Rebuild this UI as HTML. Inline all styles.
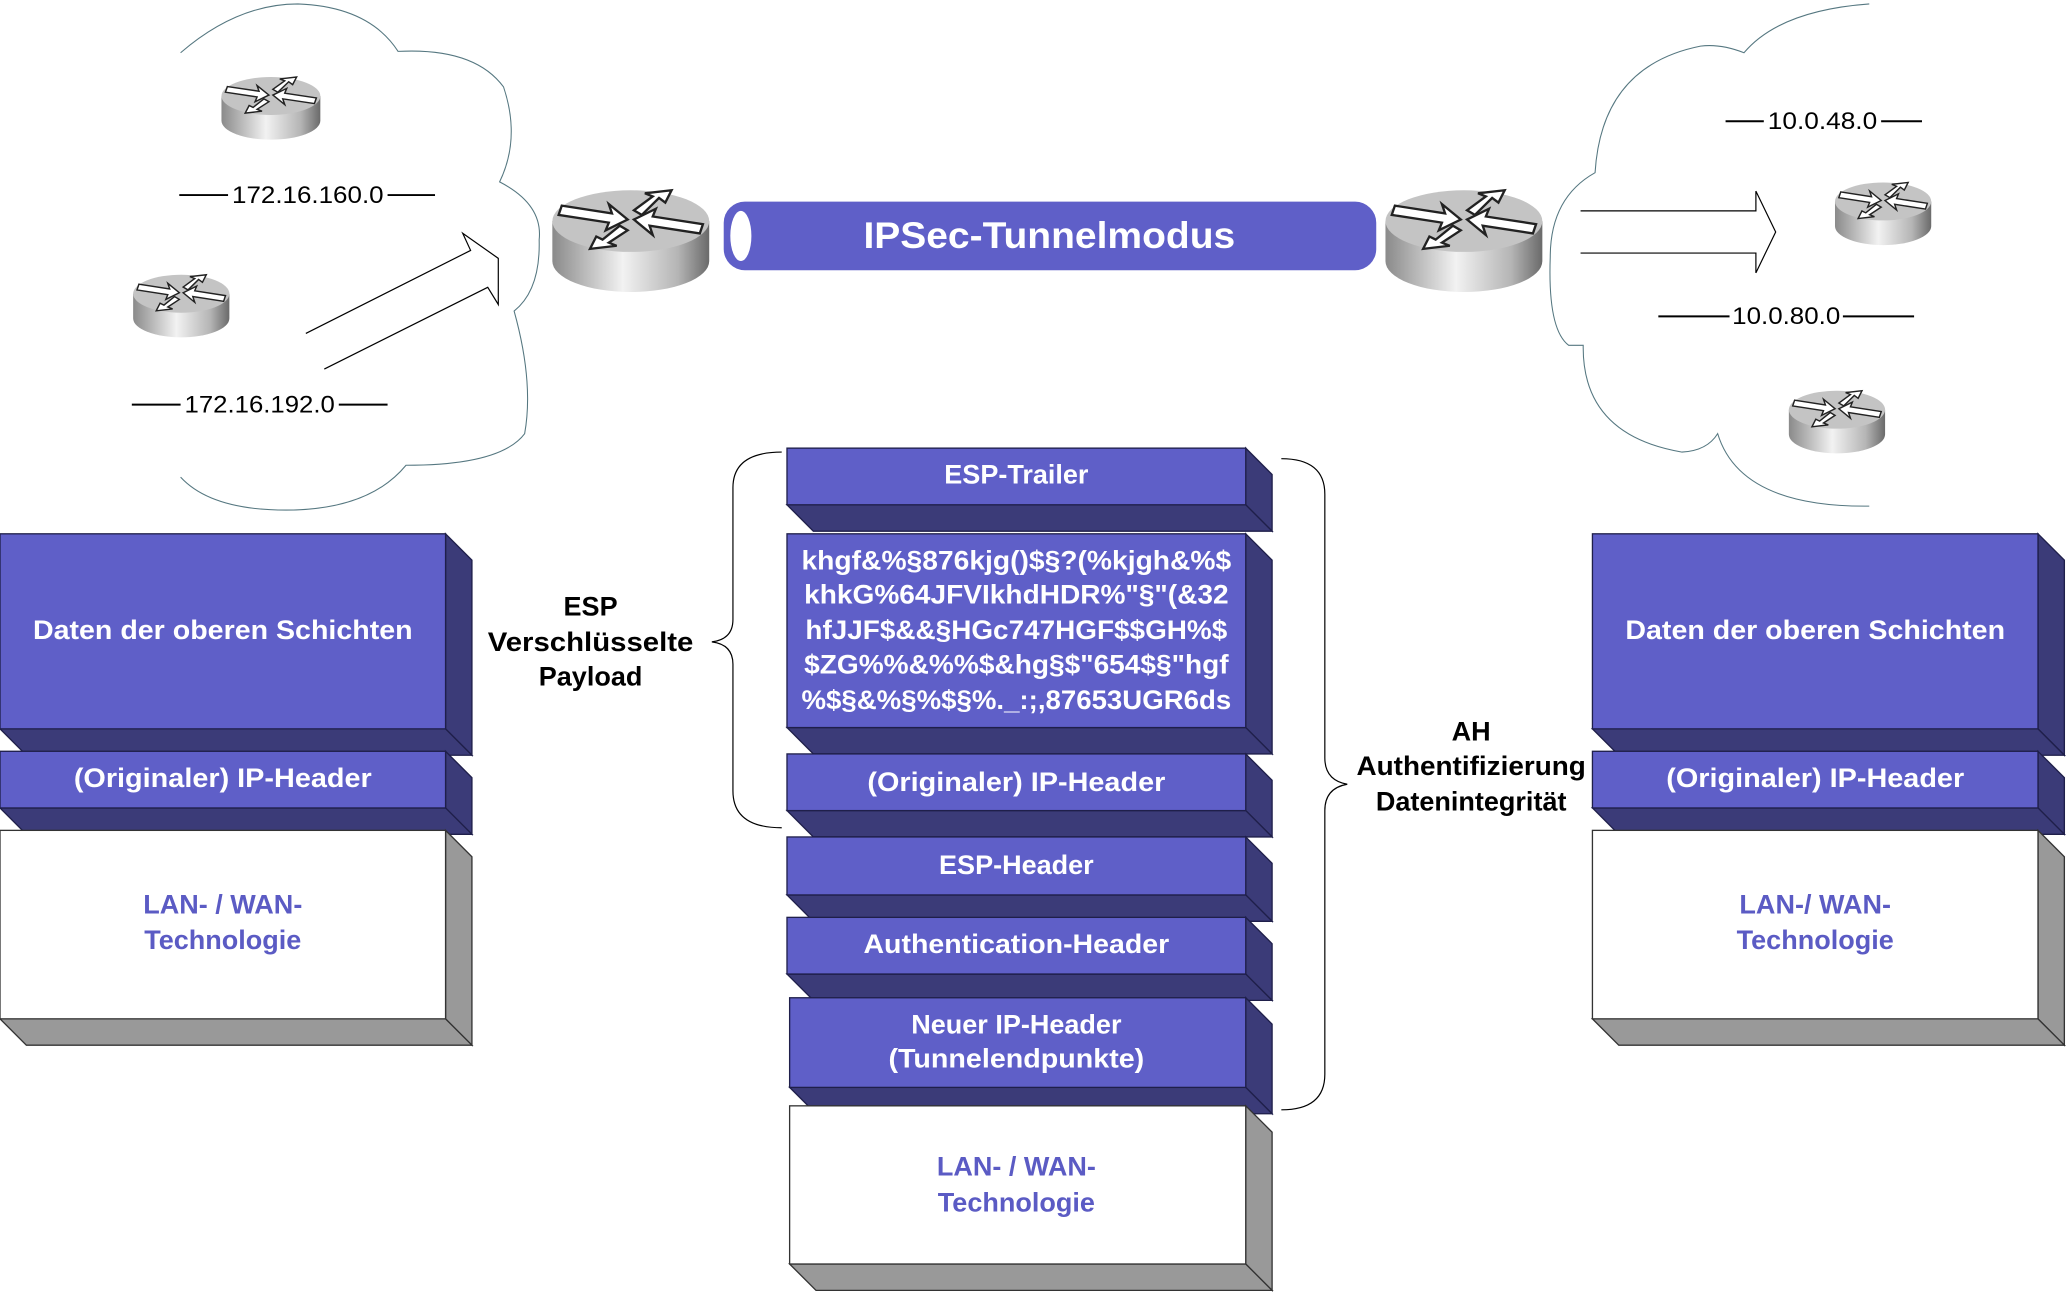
<!DOCTYPE html>
<html><head><meta charset="utf-8"><style>
html,body{margin:0;padding:0;background:#fff;}
svg{display:block;}
text{font-family:"Liberation Sans",Arial,sans-serif;}
.w{fill:#fff;font-weight:bold;font-size:20.5px;text-anchor:middle;}
.b{fill:#5b5bc4;font-weight:bold;font-size:20.5px;text-anchor:middle;}
.k{fill:#000;font-weight:bold;font-size:20.5px;text-anchor:middle;}
.n{fill:#000;font-size:18.5px;}
</style></head><body>
<svg width="2067" height="1293" viewBox="0 0 1568 981" preserveAspectRatio="none" xmlns="http://www.w3.org/2000/svg">
<defs>
<linearGradient id="cyl" x1="0" x2="1" y1="0" y2="0">
<stop offset="0" stop-color="#8a8a8a"/><stop offset="0.45" stop-color="#f2f2f2"/><stop offset="0.8" stop-color="#b5b5b5"/><stop offset="1" stop-color="#6a6a6a"/>
</linearGradient>
<g id="rt">
<path d="M0,22 L0,48 A50,20 0 0 0 100,48 L100,22 Z" fill="url(#cyl)"/>
<ellipse cx="50" cy="22" rx="50" ry="20" fill="#c4c4c4"/>
<g fill="#fff" stroke="#222" stroke-width="1.5">
<path d="M6,12 L38,17 L36,11 L48,21 L34,28 L36,23 L4,18 Z"/>
<path d="M94,30 L62,25 L64,31 L52,21 L66,14 L64,19 L96,24 Z"/>
<path d="M52,15 L64,6 L59,4 L76,2 L72,10 L68,7 L57,18 Z"/>
<path d="M48,28 L36,36 L41,38 L24,40 L28,32 L32,34 L43,25 Z"/>
</g>
</g>
</defs>

<!-- clouds -->
<path d="M137,40 Q180,3 226,3 Q280,5 302,39 Q360,36 382,66 Q395,105 379,138 Q412,155 409,182 Q410,220 390,236 Q405,290 398,329 Q380,353 308,353 Q280,387 217,387 Q160,387 137,362" fill="none" stroke="#557780" stroke-width="0.8"/>
<path d="M1418,3 Q1350,8 1323,40 Q1305,33 1290,35 Q1215,50 1210,131 Q1176,150 1176,195 Q1174,250 1190,262 L1201,262 Q1200,330 1276,343 Q1295,342 1303,329 Q1320,385 1418,384" fill="none" stroke="#557780" stroke-width="0.8"/>

<!-- routers -->
<use href="#rt" transform="translate(168,57) scale(0.75,0.72)"/>
<use href="#rt" transform="translate(101,207) scale(0.73,0.72)"/>
<use href="#rt" transform="translate(419,142) scale(1.19,1.17)"/>
<use href="#rt" transform="translate(1051,142) scale(1.19,1.17)"/>
<use href="#rt" transform="translate(1392,137) scale(0.73,0.72)"/>
<use href="#rt" transform="translate(1357,295) scale(0.73,0.72)"/>

<!-- network labels -->
<g stroke="#000" stroke-width="1.5">
<line x1="136" y1="148" x2="173" y2="148"/><line x1="294" y1="148" x2="330" y2="148"/>
<line x1="100" y1="307" x2="137" y2="307"/><line x1="257" y1="307" x2="294" y2="307"/>
<line x1="1309" y1="92" x2="1338" y2="92"/><line x1="1427" y1="92" x2="1458" y2="92"/>
<line x1="1258" y1="240" x2="1312" y2="240"/><line x1="1398" y1="240" x2="1452" y2="240"/>
</g>
<text class="n" x="176" y="154" textLength="115" lengthAdjust="spacingAndGlyphs">172.16.160.0</text>
<text class="n" x="140" y="313" textLength="114" lengthAdjust="spacingAndGlyphs">172.16.192.0</text>
<text class="n" x="1341" y="98" textLength="83" lengthAdjust="spacingAndGlyphs">10.0.48.0</text>
<text class="n" x="1314" y="246" textLength="82" lengthAdjust="spacingAndGlyphs">10.0.80.0</text>

<!-- arrows -->
<path d="M232,253 L357,190 L351,177 L378,196 L378,231 L370,218 L246,280" fill="none" stroke="#000" stroke-width="0.9"/>
<path d="M1199,160 L1332,160 L1332,145 L1347,176 L1332,207 L1332,192 L1199,192" fill="none" stroke="#000" stroke-width="0.9"/>

<!-- tunnel -->
<rect x="549" y="153" width="495" height="52" rx="16" fill="#5f5fc8"/>
<ellipse cx="562" cy="179" rx="8" ry="19" fill="#fff"/>
<text x="796" y="188" fill="#fff" font-weight="bold" font-size="28" text-anchor="middle" textLength="282" lengthAdjust="spacingAndGlyphs">IPSec-Tunnelmodus</text>

<!-- blocks -->
<g stroke="#1f1f4a" stroke-width="1">
<path d="M338,405 L358,425 L358,573 L338,553 Z" fill="#3b3b78"/>
<path d="M0,553 L338,553 L358,573 L20,573 Z" fill="#3b3b78"/>
<rect x="0" y="405" width="338" height="148" fill="#5f5fc8"/>
<path d="M338,570 L358,590 L358,633 L338,613 Z" fill="#3b3b78"/>
<path d="M0,613 L338,613 L358,633 L20,633 Z" fill="#3b3b78"/>
<rect x="0" y="570" width="338" height="43" fill="#5f5fc8"/>
<path d="M1546,405 L1566,425 L1566,573 L1546,553 Z" fill="#3b3b78"/>
<path d="M1208,553 L1546,553 L1566,573 L1228,573 Z" fill="#3b3b78"/>
<rect x="1208" y="405" width="338" height="148" fill="#5f5fc8"/>
<path d="M1546,570 L1566,590 L1566,633 L1546,613 Z" fill="#3b3b78"/>
<path d="M1208,613 L1546,613 L1566,633 L1228,633 Z" fill="#3b3b78"/>
<rect x="1208" y="570" width="338" height="43" fill="#5f5fc8"/>
<path d="M945,340 L965,360 L965,403 L945,383 Z" fill="#3b3b78"/>
<path d="M597,383 L945,383 L965,403 L617,403 Z" fill="#3b3b78"/>
<rect x="597" y="340" width="348" height="43" fill="#5f5fc8"/>
<path d="M945,405 L965,425 L965,572 L945,552 Z" fill="#3b3b78"/>
<path d="M597,552 L945,552 L965,572 L617,572 Z" fill="#3b3b78"/>
<rect x="597" y="405" width="348" height="147" fill="#5f5fc8"/>
<path d="M945,572 L965,592 L965,635 L945,615 Z" fill="#3b3b78"/>
<path d="M597,615 L945,615 L965,635 L617,635 Z" fill="#3b3b78"/>
<rect x="597" y="572" width="348" height="43" fill="#5f5fc8"/>
<path d="M945,635 L965,655 L965,699 L945,679 Z" fill="#3b3b78"/>
<path d="M597,679 L945,679 L965,699 L617,699 Z" fill="#3b3b78"/>
<rect x="597" y="635" width="348" height="44" fill="#5f5fc8"/>
<path d="M945,696 L965,716 L965,759 L945,739 Z" fill="#3b3b78"/>
<path d="M597,739 L945,739 L965,759 L617,759 Z" fill="#3b3b78"/>
<rect x="597" y="696" width="348" height="43" fill="#5f5fc8"/>
<path d="M945,757 L965,777 L965,845 L945,825 Z" fill="#3b3b78"/>
<path d="M599,825 L945,825 L965,845 L619,845 Z" fill="#3b3b78"/>
<rect x="599" y="757" width="346" height="68" fill="#5f5fc8"/>
</g>
<g stroke="#333" stroke-width="1">
<path d="M338,630 L358,650 L358,793 L338,773 Z" fill="#999"/>
<path d="M0,773 L338,773 L358,793 L20,793 Z" fill="#999"/>
<rect x="0" y="630" width="338" height="143" fill="#fff"/>
<path d="M1546,630 L1566,650 L1566,793 L1546,773 Z" fill="#999"/>
<path d="M1208,773 L1546,773 L1566,793 L1228,793 Z" fill="#999"/>
<rect x="1208" y="630" width="338" height="143" fill="#fff"/>
<path d="M945,839 L965,859 L965,979 L945,959 Z" fill="#999"/>
<path d="M599,959 L945,959 L965,979 L619,979 Z" fill="#999"/>
<rect x="599" y="839" width="346" height="120" fill="#fff"/>
</g>

<!-- block texts -->
<text class="w" x="169" y="485" textLength="288" lengthAdjust="spacingAndGlyphs">Daten der oberen Schichten</text>
<text class="w" x="169" y="597" textLength="226" lengthAdjust="spacingAndGlyphs">(Originaler) IP-Header</text>
<text class="b" x="169" y="693">LAN- / WAN-</text>
<text class="b" x="169" y="720">Technologie</text>
<text class="w" x="1377" y="485" textLength="288" lengthAdjust="spacingAndGlyphs">Daten der oberen Schichten</text>
<text class="w" x="1377" y="597" textLength="226" lengthAdjust="spacingAndGlyphs">(Originaler) IP-Header</text>
<text class="b" x="1377" y="693">LAN-/ WAN-</text>
<text class="b" x="1377" y="720">Technologie</text>

<text class="w" x="771" y="367">ESP-Trailer</text>
<text class="w" x="771" y="432" textLength="326" lengthAdjust="spacingAndGlyphs">khgf&amp;%§876kjg()$§?(%kjgh&amp;%$</text>
<text class="w" x="771" y="458" textLength="322" lengthAdjust="spacingAndGlyphs">khkG%64JFVIkhdHDR%"§"(&amp;32</text>
<text class="w" x="771" y="485" textLength="320" lengthAdjust="spacingAndGlyphs">hfJJF$&amp;&amp;§HGc747HGF$$GH%$</text>
<text class="w" x="771" y="511" textLength="322" lengthAdjust="spacingAndGlyphs">$ZG%%&amp;%%$&amp;hg§$"654$§"hgf</text>
<text class="w" x="771" y="538" textLength="326" lengthAdjust="spacingAndGlyphs">%$§&amp;%§%$§%._:;,87653UGR6ds</text>
<text class="w" x="771" y="600" textLength="226" lengthAdjust="spacingAndGlyphs">(Originaler) IP-Header</text>
<text class="w" x="771" y="663">ESP-Header</text>
<text class="w" x="771" y="723" textLength="232" lengthAdjust="spacingAndGlyphs">Authentication-Header</text>
<text class="w" x="771" y="784">Neuer IP-Header</text>
<text class="w" x="771" y="810" textLength="194" lengthAdjust="spacingAndGlyphs">(Tunnelendpunkte)</text>
<text class="b" x="771" y="892">LAN- / WAN-</text>
<text class="b" x="771" y="919">Technologie</text>

<!-- braces -->
<path d="M593,343 Q556,343 556,370 L556,470 Q556,485 540,487 Q556,489 556,504 L556,600 Q556,628 593,628" fill="none" stroke="#000" stroke-width="0.9"/>
<path d="M972,348 Q1005,348 1005,375 L1005,575 Q1005,592 1022,595 Q1005,598 1005,615 L1005,815 Q1005,842 972,842" fill="none" stroke="#000" stroke-width="0.9"/>

<text class="k" x="448" y="467">ESP</text>
<text class="k" x="448" y="494" textLength="156" lengthAdjust="spacingAndGlyphs">Verschlüsselte</text>
<text class="k" x="448" y="520">Payload</text>
<text class="k" x="1116" y="562">AH</text>
<text class="k" x="1116" y="588" textLength="174" lengthAdjust="spacingAndGlyphs">Authentifizierung</text>
<text class="k" x="1116" y="615">Datenintegrität</text>
</svg>
</body></html>
